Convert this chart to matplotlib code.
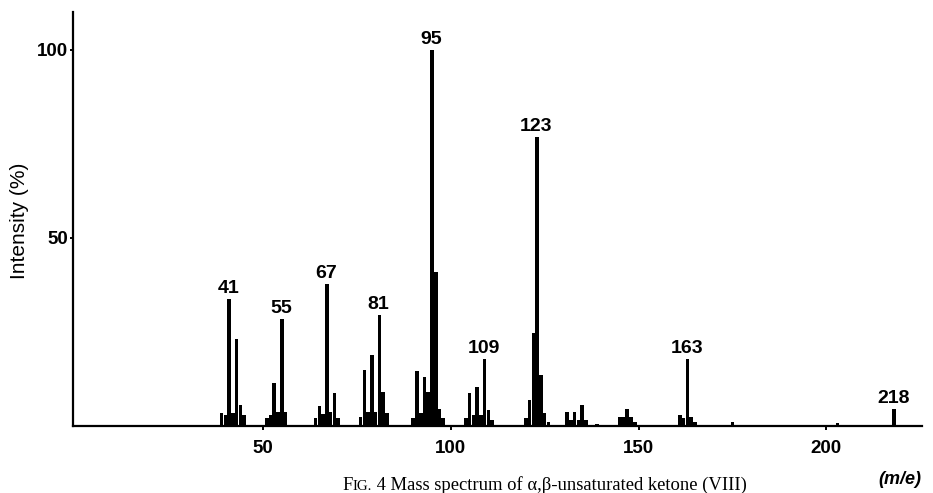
import matplotlib
matplotlib.use('Agg')
import matplotlib.pyplot as plt

# m/e values and relative intensities (%)
mz = [39, 40, 41, 42, 43, 44, 45,
      51, 52, 53, 54, 55, 56,
      64, 65, 66, 67, 68, 69, 70,
      76, 77, 78, 79, 80, 81, 82, 83,
      90, 91, 92, 93, 94, 95, 96, 97, 98,
      104, 105, 106, 107, 108, 109, 110, 111,
      120, 121, 122, 123, 124, 125, 126,
      131, 132, 133, 134, 135, 136, 139,
      145, 146, 147, 148, 149,
      161, 162, 163, 164, 165,
      175, 203, 218]
intensity = [3.5, 3.0, 33.7, 3.5, 23.1, 5.6, 3.0,
             2.0, 3.0, 11.4, 3.6, 28.5, 3.6,
             2.0, 5.4, 3.2, 37.7, 3.8, 8.8, 2.0,
             2.5, 14.8, 3.8, 18.8, 3.8, 29.5, 9.0, 3.5,
             2.0, 14.5, 3.5, 13.0, 9.0, 100.0, 40.9, 4.5, 2.0,
             2.0, 8.7, 3.0, 10.5, 3.0, 17.8, 4.3, 1.5,
             2.0, 7.0, 24.8, 76.9, 13.6, 3.5, 1.0,
             3.6, 1.5, 3.8, 1.5, 5.6, 1.5, 0.5,
             2.5, 2.5, 4.5, 2.5, 1.0,
             2.9, 2.0, 17.8, 2.5, 1.0,
             1.1, 0.8, 4.5]

labelled = [41, 55, 67, 81, 95, 109, 123, 163, 218]
xticks = [50, 100, 150, 200]
yticks = [50, 100]

sans = 'Liberation Sans'
serif = 'Liberation Serif'

fig = plt.figure(figsize=(9.33, 4.93), dpi=100)
ax = fig.add_axes([0.0782, 0.1359, 0.9097, 0.8398])

ax.bar(mz, intensity, width=0.95, color='black', linewidth=0)

heights = dict(zip(mz, intensity))
for m in labelled:
    ax.annotate(str(m), (m, heights[m]), xytext=(-0.5, 4.3), textcoords='offset points',
                ha='center', va='baseline', fontsize=14, family=sans, fontweight='bold')

ax.set_xlim(-0.6, 225.4)
ax.set_ylim(0, 110.1)
for s in ['top', 'right']:
    ax.spines[s].set_visible(False)
for s in ['left', 'bottom']:
    ax.spines[s].set_linewidth(1.6)

ax.set_xticks(xticks)
ax.set_yticks(yticks)
ax.tick_params(axis='x', direction='out', length=3, width=1.4, pad=7, labelsize=13.5)
ax.tick_params(axis='y', direction='out', length=2.5, width=1.4, pad=1, labelsize=13.5)
for lab in ax.get_xticklabels() + ax.get_yticklabels():
    lab.set_family(sans)
    lab.set_fontweight('bold')

fig.text(20 / 933, 1 - 221 / 493, 'Intensity (%)', rotation=90, ha='center', va='center',
         fontsize=15, family=sans)
fig.text(900 / 933, 1 - 479 / 493, '(m/e)', ha='center', va='center',
         fontsize=13, family=sans, style='italic', fontweight='bold')

# caption with small capitals for "FIG."
r = fig.canvas.get_renderer()
x = 342 / 933
y = 3 / 493
for part, size in [('F', 13.4), ('IG.', 10.8), (' 4 Mass spectrum of α,β-unsaturated ketone (VIII)', 13.4)]:
    t = fig.text(x, y, part, fontsize=size, family=serif, ha='left', va='baseline')
    bb = t.get_window_extent(renderer=r)
    x = bb.x1 / fig.bbox.width

fig.savefig('out.png', dpi=100)
